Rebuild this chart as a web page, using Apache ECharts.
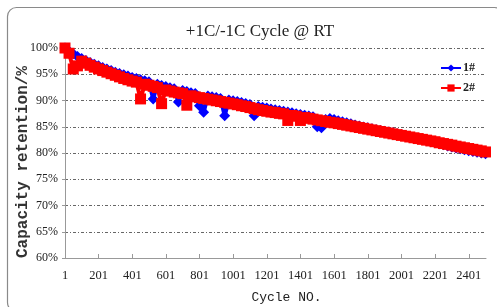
<!DOCTYPE html>
<html>
<head>
<meta charset="utf-8">
<script src="https://cdn.jsdelivr.net/npm/echarts@6/dist/echarts.min.js"></script>
<style>
html,body{margin:0;padding:0;background:#fff;}
#chart{width:497px;height:307px;}
</style>
</head>
<body>
<div id="chart"></div>
<script>
// ---- data ----
const chartTitle = '+1C/-1C Cycle @ RT';
const xName = 'Cycle NO.';
const yName = 'Capacity retention/%';
const seriesNames = ['1#', '2#'];
const xTicks = [1, 201, 401, 601, 801, 1001, 1201, 1401, 1601, 1801, 2001, 2201, 2401];
const yTicks = [60, 65, 70, 75, 80, 85, 90, 95, 100];

const cycles = [1,
  25, 50, 75, 100, 125, 150, 175, 200, 225, 250, 275, 300, 325, 350, 375, 400, 425, 450, 475, 500,
  525, 550, 575, 600, 625, 650, 675, 700, 725, 750, 775, 800, 825, 850, 875, 900, 925, 950, 975, 1000,
  1025, 1050, 1075, 1100, 1125, 1150, 1175, 1200, 1225, 1250, 1275, 1300, 1325, 1350, 1375, 1400, 1425, 1450, 1475, 1500,
  1525, 1550, 1575, 1600, 1625, 1650, 1675, 1700, 1725, 1750, 1775, 1800, 1825, 1850, 1875, 1900, 1925, 1950, 1975, 2000,
  2025, 2050, 2075, 2100, 2125, 2150, 2175, 2200, 2225, 2250, 2275, 2300, 2325, 2350, 2375, 2400, 2425, 2450, 2475, 2500];

// cell 1# (blue diamonds), capacity retention %
const cell1 = [100.0,
  99.4, 98.9, 98.4, 98.0, 97.6, 97.25, 96.9, 96.6, 96.3, 96.0, 95.7, 95.4, 95.15, 94.9, 94.65, 94.4, 94.2, 93.95, 93.75, 93.55,
  90.3, 93.1, 92.85, 92.65, 92.45, 92.25, 89.7, 91.9, 91.7, 91.5, 91.35, 89.0, 87.75, 90.85, 90.7, 90.55, 90.4, 87.1, 90.1, 89.95,
  89.8, 89.6, 89.45, 89.25, 87.1, 88.85, 88.7, 88.55, 88.4, 88.25, 88.1, 87.95, 87.8, 87.65, 87.5, 87.35, 87.2, 87.05, 86.9, 85.0,
  84.8, 86.4, 86.55, 86.4, 86.15, 85.95, 85.75, 85.55, 85.35, 85.15, 84.95, 84.8, 84.6, 84.45, 84.3, 84.15, 84.0, 83.85, 83.65, 83.5,
  83.3, 83.1, 82.95, 82.75, 82.55, 82.35, 82.15, 81.95, 81.75, 81.55, 81.35, 81.15, 80.95, 80.8, 80.6, 80.45, 80.3, 80.15, 80.0, 79.85];

// cell 2# (red squares), capacity retention %
const cell2 = [100.0,
  99.0, 96.0, 96.6, 97.5, 97.1, 96.7, 96.35, 96.0, 95.7, 95.4, 95.1, 94.8, 94.5, 94.2, 93.95, 93.7, 93.5, 90.3, 93.1, 92.9,
  92.7, 92.45, 89.4, 92.0, 91.8, 91.6, 91.45, 91.3, 89.1, 90.9, 90.7, 90.55, 90.4, 90.25, 90.1, 89.95, 89.8, 89.65, 89.5, 89.35,
  89.2, 89.0, 88.85, 88.65, 88.45, 88.25, 88.1, 87.95, 87.8, 87.7, 87.55, 87.45, 86.2, 87.15, 87.0, 86.2, 86.75, 86.6, 86.45, 86.3,
  86.15, 86.0, 85.85, 85.75, 85.6, 85.45, 85.3, 85.15, 85.0, 84.85, 84.7, 84.55, 84.4, 84.25, 84.1, 83.95, 83.8, 83.65, 83.5, 83.35,
  83.2, 83.05, 82.9, 82.75, 82.6, 82.45, 82.3, 82.15, 81.95, 81.8, 81.65, 81.5, 81.3, 81.15, 81.0, 80.85, 80.7, 80.55, 80.4, 80.2];

const chart = echarts.init(document.getElementById('chart'), null, {renderer: 'canvas'});

const gridLine = {show: true, lineStyle: {color: '#666', width: 1, type: [3, 2, 1, 2]}};

chart.setOption({
  animation: false,
  backgroundColor: '#fff',
  graphic: [{
    type: 'rect', z: -10,
    shape: {x: 7.5, y: 7.5, width: 496, height: 304, r: 9},
    style: {fill: '#fff', stroke: '#8a8a8a', lineWidth: 1.2}
  }],
  title: {
    text: chartTitle,
    left: 255, top: 18, textAlign: 'center',
    textStyle: {fontFamily: 'Liberation Serif', fontSize: 17, fontWeight: 'normal', color: '#222'}
  },
  legend: {
    orient: 'vertical',
    left: 435, top: 57,
    itemWidth: 20, itemHeight: 9, itemGap: 8,
    textStyle: {fontFamily: 'Liberation Serif', fontSize: 12, fontWeight: 'bold', color: '#222', padding: [0, 0, 0, -3]},
    data: seriesNames
  },
  grid: {left: 65, right: 11, top: 48, bottom: 49, containLabel: false, outerBoundsMode: 'none'},
  xAxis: {
    type: 'value',
    min: 1, max: 2503,
    name: xName,
    nameLocation: 'middle',
    nameGap: 33,
    nameTextStyle: {fontFamily: 'Liberation Mono', fontSize: 13, color: '#222', padding: [0, 0, 0, 22]},
    axisLine: {show: true, lineStyle: {color: '#999', width: 1}},
    axisTick: {show: true, inside: true, length: 4, customValues: xTicks, lineStyle: {color: '#999'}},
    axisLabel: {customValues: xTicks, fontFamily: 'Liberation Serif', fontSize: 12.5, color: '#222', margin: 11,
      formatter: v => String(v)},
    splitLine: {show: false}
  },
  yAxis: {
    type: 'value',
    min: 60, max: 100, interval: 5,
    name: yName,
    nameLocation: 'middle',
    nameRotate: 90,
    nameGap: 34,
    nameMoveOverlap: false,
    nameTextStyle: {fontFamily: 'Liberation Mono', fontSize: 16, fontWeight: 'bold', color: '#333', padding: [0, 18, 0, 0]},
    axisLine: {show: true, lineStyle: {color: '#999', width: 1}},
    axisTick: {show: true, length: 3, lineStyle: {color: '#999'}},
    axisLabel: {fontFamily: 'Liberation Serif', fontSize: 12, color: '#222', margin: 7,
      formatter: v => yTicks.indexOf(v) >= 0 ? v + '%' : ''},
    splitLine: gridLine
  },
  series: [
    {
      name: seriesNames[0], type: 'line',
      data: cycles.map((c, i) => [c, cell1[i]]),
      symbol: 'diamond', symbolSize: 11, showAllSymbol: true,
      itemStyle: {color: '#0000ff'},
      lineStyle: {color: '#0000ff', width: 4},
      z: 2
    },
    {
      name: seriesNames[1], type: 'line',
      data: cycles.map((c, i) => [c, cell2[i]]),
      symbol: 'rect', symbolSize: 11, showAllSymbol: true,
      itemStyle: {color: '#ff0000'},
      lineStyle: {color: '#ff0000', width: 4},
      z: 3
    }
  ]
});
</script>
</body>
</html>
